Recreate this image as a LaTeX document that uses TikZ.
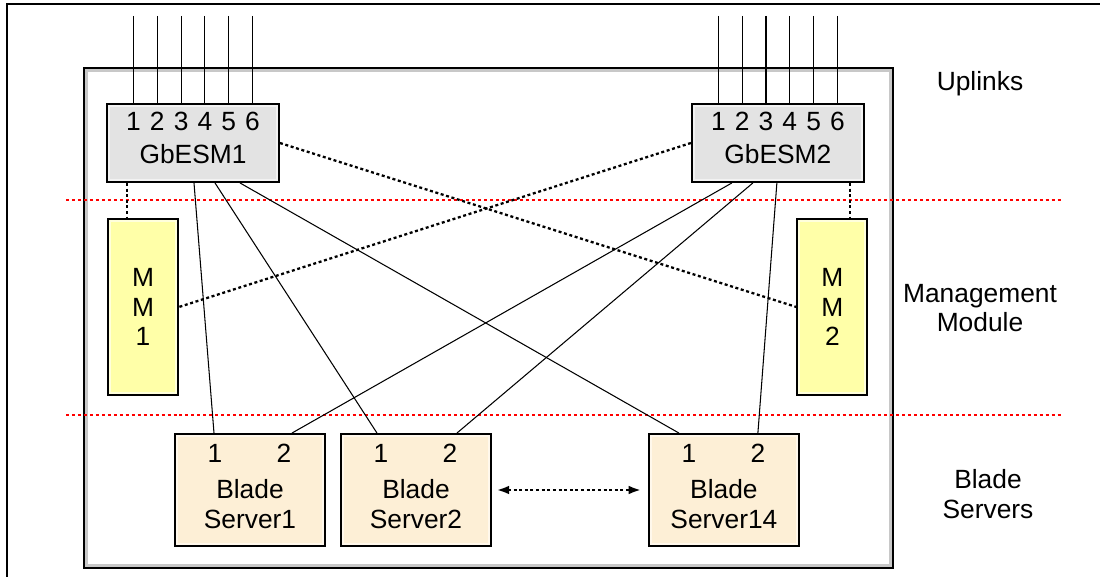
\documentclass[tikz,border=0pt]{standalone}
\usepackage{fontspec}
\setmainfont{Liberation Sans}
\usetikzlibrary{arrows,arrows.meta,positioning,calc}
\definecolor{esmgray}{HTML}{E3E3E3}
\definecolor{esmrim}{HTML}{F2F2F2}
\definecolor{mmyellow}{HTML}{FFFFA8}
\definecolor{mmrim}{HTML}{FFFFDC}
\definecolor{bladetan}{HTML}{FDEFD6}
\definecolor{bladerim}{HTML}{FFF8EC}
\definecolor{chassisgray}{HTML}{C8C8C8}

\begin{document}
\begin{tikzpicture}[x=0.02cm,y=-0.02cm,>={Latex[length=7pt,width=5pt]},on grid,
	every node/.style={font=\fontsize{15}{17}\selectfont},
	rim/.style 2 args={draw=black,line width=1.1pt,fill=#2,
		path picture={\fill[#1] ([shift={(1.7pt,1.7pt)}]path picture bounding box.south west) rectangle ([shift={(-1.7pt,-1.7pt)}]path picture bounding box.north east);}},
	esm/.style={rim={esmgray}{esmrim},minimum width=3.44cm,minimum height=1.56cm},
	mm/.style={rim={mmyellow}{mmrim},minimum width=1.4cm,minimum height=3.52cm,align=center},
	blade/.style={rim={bladetan}{bladerim},minimum width=3cm,minimum height=2.24cm}]
	\useasboundingbox (0,0) rectangle (1100,577);
	\draw[line width=0.7pt] (7,577) -- (7,4) -- (1100,4);

	\draw[line width=1.1pt] (84,68) rectangle (893,568);
	\draw[chassisgray,line width=1.4pt] (86.4,70.4) rectangle (890.6,565.6);

	\node[esm]            (g1)  at (193,143)     {};
	\node[esm]            (g2)  [right=11.7cm of g1]  {};
	\node[mm]             (m1)  at (143,307)     {M\\M\\1};
	\node[mm]             (m2)  [right=13.79cm of m1] {M\\M\\2};
	\node[blade]          (b1)  at (250,490)     {};
	\node[blade]          (b2)  [right=3.32cm of b1]  {};
	\node[blade]          (b14) [right=6.16cm of b2]  {};

	\node (g1n) at ($(g1.north)+(0,51)$) {GbESM1};
	\node (g2n) at ($(g2.north)+(0,51)$) {GbESM2};
	\coordinate (top) at (0,16);
	\foreach \g in {g1,g2}
		\foreach \i in {1,...,6}{
			\node (\g p\i) at ($(\g.north)+({(\i-3.5)*23.8},18.5)$) {\i};
			\draw[line width=0.6pt] (\g p\i |- top) -- (\g p\i |- \g.north);
		}
	\foreach \b/\t in {b1/Server1,b2/Server2,b14/Server14}{
		\node (\b p1) at ($(\b.north)+(-35,20)$) {1};
		\node (\b p2) at ($(\b.north)+(34,20)$)  {2};
		\node[align=center] (\b n) at ($(\b.center)+(0,14)$) {Blade\\\t};
	}

	\tikzset{zone/.style={red,line width=1.2pt,dash pattern=on 1.7pt off 1.7pt}}
	\draw[zone] (66,200) -- (1062,200);
	\draw[zone] (66,415) -- (1062,415);

	\tikzset{mgmt/.style={line width=1.3pt,dash pattern=on 1.7pt off 1.5pt}}
	\coordinate (g1m) at ($(g1.south west)+(21,0)$);
	\coordinate (g2m) at ($(g2.south east)+(-15,0)$);
	\draw[mgmt] (g1m) -- (g1m |- m1.north);
	\draw[mgmt] (g2m) -- (g2m |- m2.north);
	\draw[mgmt] (g1.east) -- (m2.west);
	\draw[mgmt] (g2.west) -- (m1.east);
	\draw[mgmt,<->,shorten <=2.8pt,shorten >=4pt] (b2) -- (b14);

	\tikzset{link/.style={line width=0.6pt}}
	\foreach \a/\n/\e in {1/b1/-36,22/b2/-39,47/b14/-45}
		\draw[link] ($(g1.south)+(\a,0)$) -- ($(\n.north)+(\e,0)$);
	\foreach \a/\n/\e in {-46/b1/42,-25/b2/41,-1/b14/34}
		\draw[link] ($(g2.south)+(\a,0)$) -- ($(\n.north)+(\e,0)$);

	\node (upl) at (980,84) {Uplinks};
	\node[align=center] (mml) at (980,308) {Management\\Module};
	\node[align=center] (bsl) at (988,494) {Blade\\Servers};
\end{tikzpicture}
\end{document}
